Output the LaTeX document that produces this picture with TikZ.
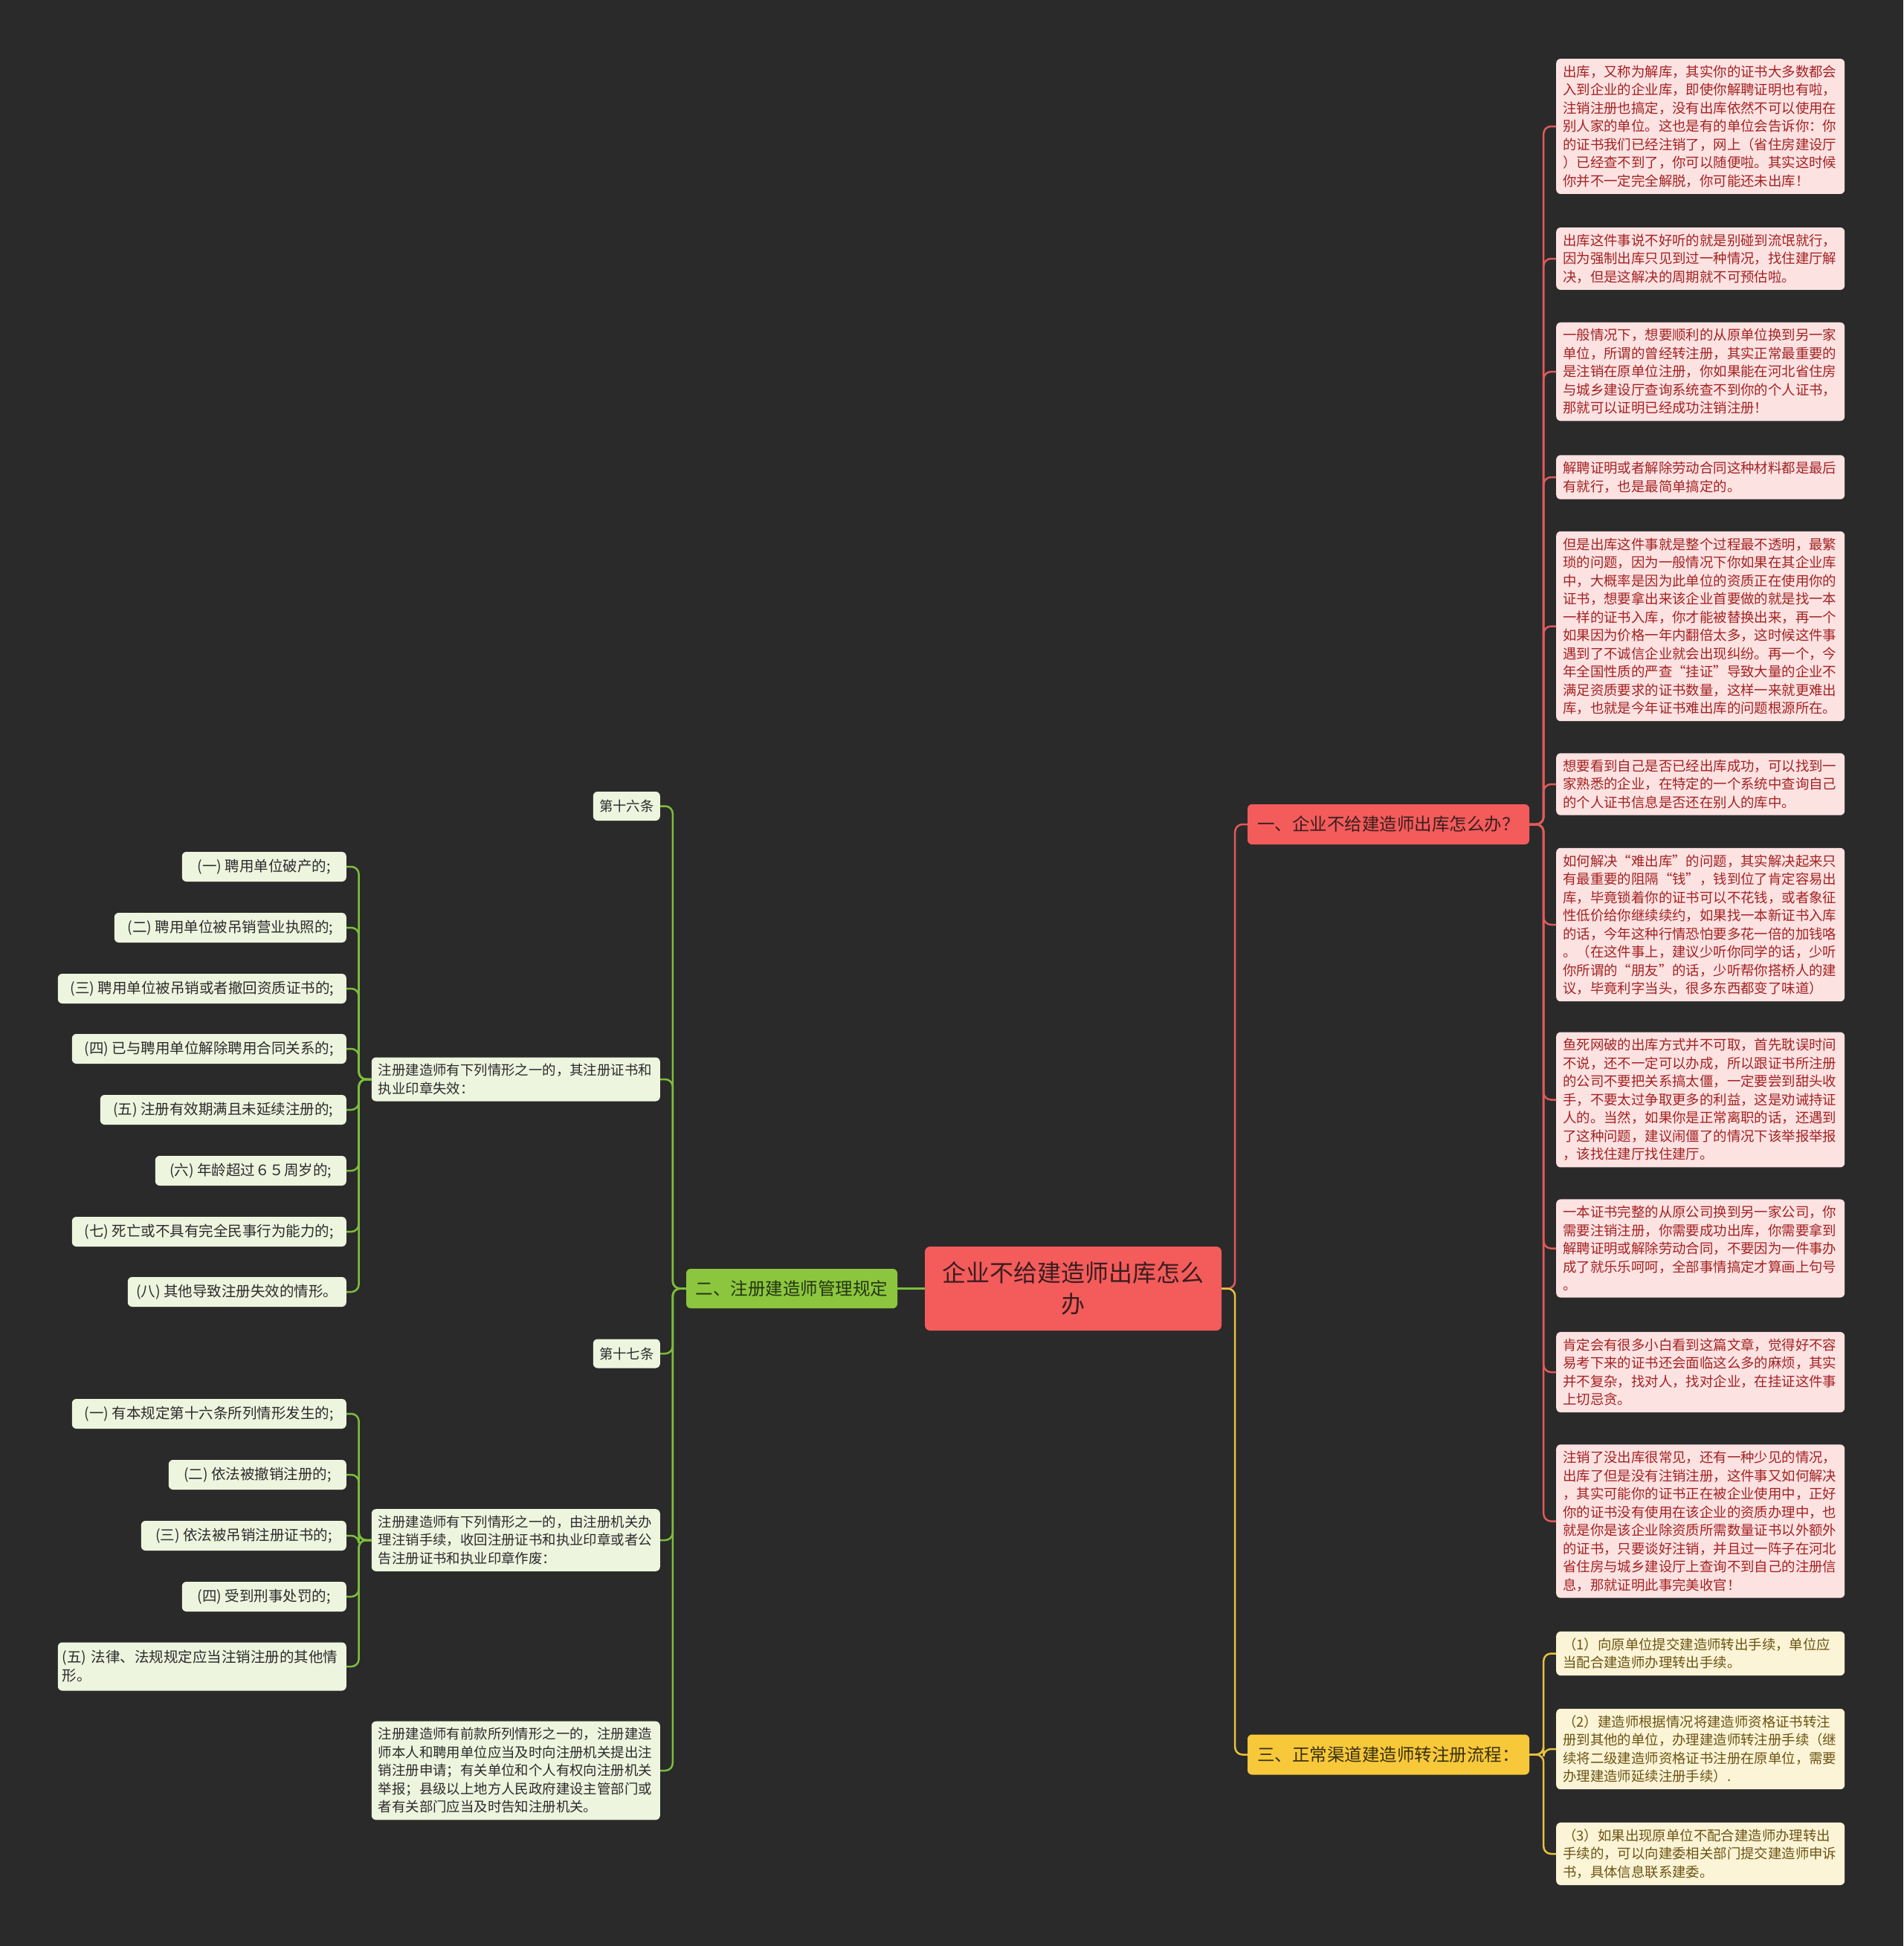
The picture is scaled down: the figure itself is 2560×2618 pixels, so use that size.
\documentclass[tikz,border=0pt]{standalone}
\usepackage{fontspec}
\newfontfamily\cjk{Noto Sans CJK SC}
\definecolor{bg}{HTML}{2A2A2A}
\definecolor{rootfill}{HTML}{F45B5B}
\definecolor{roottext}{HTML}{3A1E1E}
\definecolor{redline}{HTML}{E05A5A}
\definecolor{redleaf}{HTML}{FDE2E2}
\definecolor{redtext}{HTML}{A32222}
\definecolor{yelfill}{HTML}{F7C93A}
\definecolor{yeltext}{HTML}{3A3010}
\definecolor{yelline}{HTML}{E8C040}
\definecolor{yelleaf}{HTML}{FCF4D6}
\definecolor{yelleaftext}{HTML}{6B5414}
\definecolor{grnfill}{HTML}{8CC63F}
\definecolor{grntext}{HTML}{243410}
\definecolor{grnline}{HTML}{7DBE3C}
\definecolor{grnleaf}{HTML}{EEF5DF}
\definecolor{grnleaftext}{HTML}{2B2B2B}
\tikzset{
  nbox/.style={rounded corners=6pt, inner xsep=9pt, inner ysep=8.7pt,
    font=\cjk\fontsize{18.4}{24.5}\selectfont},
  rleaf/.style={nbox, fill=redleaf, text=redtext, text width=370pt, align=left, anchor=west},
  yleaf/.style={nbox, fill=yelleaf, text=yelleaftext, text width=370pt, align=left, anchor=west},
  gleaf/.style={nbox, fill=grnleaf, text=grnleaftext, text width=370pt, align=left, anchor=east},
  gshort/.style={nbox, fill=grnleaf, text=grnleaftext, minimum height=39pt, minimum width=90pt, inner xsep=4pt, anchor=east, align=center},
  gitem/.style={rounded corners=6pt, fill=grnleaf, text=grnleaftext, minimum height=40pt, inner xsep=6pt,
    anchor=east, align=center, font=\cjk\fontsize{19.5}{25}\selectfont},
  branch/.style={rounded corners=6pt, minimum height=54pt, minimum width=379pt, inner sep=2pt,
    font=\cjk\fontsize{23.5}{27}\selectfont},
  conn/.style={line width=2.5pt, rounded corners=10pt},
}
\begin{document}
\begin{tikzpicture}[x=1pt,y=-1pt]
\fill[bg] (0,0) rectangle (2560,2618);
\useasboundingbox (0,0) rectangle (2560,2618);

% root
\node[rounded corners=7pt, fill=rootfill, text=roottext, minimum width=399pt, minimum height=113pt,
  align=center, font=\cjk\fontsize{32}{42}\selectfont] (root) at (1443.5,1733.5) {企业不给建造师出库怎么\\办};

% branches
\node[branch, fill=rootfill, text=roottext] (b1) at (1867.5,1109) {一、企业不给建造师出库怎么办？};
\node[branch, fill=yelfill, text=yeltext] (b3) at (1867.5,2360.5) {三、正常渠道建造师转注册流程：};
\node[branch, fill=grnfill, text=grntext, minimum width=284pt, minimum height=53pt] (b2) at (1065,1733.5) {二、注册建造师管理规定};

% red leaves
\node[rleaf] (r1) at (2093,170) {出库，又称为解库，其实你的证书大多数都会\\入到企业的企业库，即使你解聘证明也有啦，\\注销注册也搞定，没有出库依然不可以使用在\\别人家的单位。这也是有的单位会告诉你：你\\的证书我们已经注销了，网上（省住房建设厅\\）已经查不到了，你可以随便啦。其实这时候\\你并不一定完全解脱，你可能还未出库！};
\node[rleaf] (r2) at (2093,348) {出库这件事说不好听的就是别碰到流氓就行，\\因为强制出库只见到过一种情况，找住建厅解\\决，但是这解决的周期就不可预估啦。};
\node[rleaf] (r3) at (2093,500) {一般情况下，想要顺利的从原单位换到另一家\\单位，所谓的曾经转注册，其实正常最重要的\\是注销在原单位注册，你如果能在河北省住房\\与城乡建设厅查询系统查不到你的个人证书，\\那就可以证明已经成功注销注册！};
\node[rleaf] (r4) at (2093,642) {解聘证明或者解除劳动合同这种材料都是最后\\有就行，也是最简单搞定的。};
\node[rleaf] (r5) at (2093,842.5) {但是出库这件事就是整个过程最不透明，最繁\\琐的问题，因为一般情况下你如果在其企业库\\中，大概率是因为此单位的资质正在使用你的\\证书，想要拿出来该企业首要做的就是找一本\\一样的证书入库，你才能被替换出来，再一个\\如果因为价格一年内翻倍太多，这时候这件事\\遇到了不诚信企业就会出现纠纷。再一个，今\\年全国性质的严查“挂证”导致大量的企业不\\满足资质要求的证书数量，这样一来就更难出\\库，也就是今年证书难出库的问题根源所在。};
\node[rleaf] (r6) at (2093,1055) {想要看到自己是否已经出库成功，可以找到一\\家熟悉的企业，在特定的一个系统中查询自己\\的个人证书信息是否还在别人的库中。};
\node[rleaf] (r7) at (2093,1244) {如何解决“难出库”的问题，其实解决起来只\\有最重要的阻隔“钱”，钱到位了肯定容易出\\库，毕竟锁着你的证书可以不花钱，或者象征\\性低价给你继续续约，如果找一本新证书入库\\的话，今年这种行情恐怕要多花一倍的加钱咯\\。（在这件事上，建议少听你同学的话，少听\\你所谓的“朋友”的话，少听帮你搭桥人的建\\议，毕竟利字当头，很多东西都变了味道）};
\node[rleaf] (r8) at (2093,1479.5) {鱼死网破的出库方式并不可取，首先耽误时间\\不说，还不一定可以办成，所以跟证书所注册\\的公司不要把关系搞太僵，一定要尝到甜头收\\手，不要太过争取更多的利益，这是劝诫持证\\人的。当然，如果你是正常离职的话，还遇到\\了这种问题，建议闹僵了的情况下该举报举报\\，该找住建厅找住建厅。};
\node[rleaf] (r9) at (2093,1679.5) {一本证书完整的从原公司换到另一家公司，你\\需要注销注册，你需要成功出库，你需要拿到\\解聘证明或解除劳动合同，不要因为一件事办\\成了就乐乐呵呵，全部事情搞定才算画上句号\\。};
\node[rleaf] (r10) at (2093,1846) {肯定会有很多小白看到这篇文章，觉得好不容\\易考下来的证书还会面临这么多的麻烦，其实\\并不复杂，找对人，找对企业，在挂证这件事\\上切忌贪。};
\node[rleaf] (r11) at (2093,2046.5) {注销了没出库很常见，还有一种少见的情况，\\出库了但是没有注销注册，这件事又如何解决\\，其实可能你的证书正在被企业使用中，正好\\你的证书没有使用在该企业的资质办理中，也\\就是你是该企业除资质所需数量证书以外额外\\的证书，只要谈好注销，并且过一阵子在河北\\省住房与城乡建设厅上查询不到自己的注册信\\息，那就证明此事完美收官！};

% yellow leaves
\node[yleaf] (y1) at (2093,2224.5) {（1）向原单位提交建造师转出手续，单位应\\当配合建造师办理转出手续。};
\node[yleaf] (y2) at (2093,2353) {（2）建造师根据情况将建造师资格证书转注\\册到其他的单位，办理建造师转注册手续（继\\续将二级建造师资格证书注册在原单位，需要\\办理建造师延续注册手续）.};
\node[yleaf] (y3) at (2093,2494) {（3）如果出现原单位不配合建造师办理转出\\手续的，可以向建委相关部门提交建造师申诉\\书，具体信息联系建委。};

% green second level
\node[gshort] (g1) at (888,1084.5) {第十六条};
\node[gleaf] (g2) at (888,1452) {注册建造师有下列情形之一的，其注册证书和\\执业印章失效：};
\node[gshort] (g3) at (888,1821) {第十七条};
\node[gleaf] (g4) at (888,2072) {注册建造师有下列情形之一的，由注册机关办\\理注销手续，收回注册证书和执业印章或者公\\告注册证书和执业印章作废：};
\node[gleaf] (g5) at (888,2382) {注册建造师有前款所列情形之一的，注册建造\\师本人和聘用单位应当及时向注册机关提出注\\销注册申请；有关单位和个人有权向注册机关\\举报；县级以上地方人民政府建设主管部门或\\者有关部门应当及时告知注册机关。};

% green items of g2
\node[gitem, minimum width=221pt] (a1) at (466,1166) {(一) 聘用单位破产的;};
\node[gitem, minimum width=312pt] (a2) at (466,1248) {(二) 聘用单位被吊销营业执照的;};
\node[gitem, minimum width=388pt] (a3) at (466,1330) {(三) 聘用单位被吊销或者撤回资质证书的;};
\node[gitem, minimum width=369pt] (a4) at (466,1411) {(四) 已与聘用单位解除聘用合同关系的;};
\node[gitem, minimum width=331pt] (a5) at (466,1493) {(五) 注册有效期满且未延续注册的;};
\node[gitem, minimum width=257pt] (a6) at (466,1575) {(六) 年龄超过６５周岁的;};
\node[gitem, minimum width=369pt] (a7) at (466,1657) {(七) 死亡或不具有完全民事行为能力的;};
\node[gitem, minimum width=294pt] (a8) at (466,1738) {(八) 其他导致注册失效的情形。};

% green items of g4
\node[gitem, minimum width=369pt] (c1) at (466,1902) {(一) 有本规定第十六条所列情形发生的;};
\node[gitem, minimum width=239pt] (c2) at (466,1984) {(二) 依法被撤销注册的;};
\node[gitem, minimum width=276pt] (c3) at (466,2066) {(三) 依法被吊销注册证书的;};
\node[gitem, minimum width=221pt] (c4) at (466,2148) {(四) 受到刑事处罚的;};
\node[gitem, text width=376pt, inner xsep=6pt, align=left, minimum height=65pt] (c5) at (466,2242) {(五) 法律、法规规定应当注销注册的其他情\\形。};

% connectors: root
\draw[conn, redline] (root.east) -- ++(18,0) |- (b1.west);
\draw[conn, yelline] (root.east) -- ++(18,0) |- (b3.west);
\draw[conn, grnline] (root.west) -- (b2.east);

% red
\foreach \n in {r1,r2,r3,r4,r5,r6,r7,r8,r9,r10,r11}
  \draw[conn, redline] (b1.east) -- ++(19,0) |- (\n.west);
% yellow
\foreach \n in {y1,y2,y3}
  \draw[conn, yelline] (b3.east) -- ++(19,0) |- (\n.west);
% green
\foreach \n in {g1,g2,g3,g4,g5}
  \draw[conn, grnline] (b2.west) -- ++(-18,0) |- (\n.east);
\foreach \n in {a1,a2,a3,a4,a5,a6,a7,a8}
  \draw[conn, grnline] (g2.west) -- ++(-17,0) |- (\n.east);
\foreach \n in {c1,c2,c3,c4,c5}
  \draw[conn, grnline] (g4.west) -- ++(-17,0) |- (\n.east);
\end{tikzpicture}
\end{document}
